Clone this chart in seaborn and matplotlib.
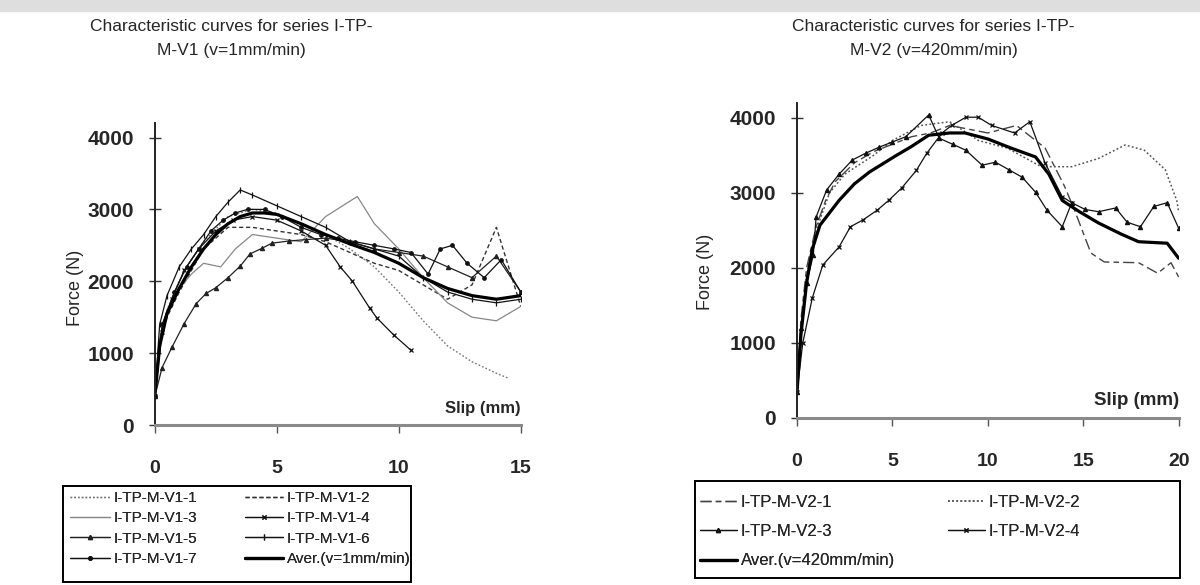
import matplotlib
matplotlib.use("Agg")
import matplotlib.pyplot as plt
import seaborn as sns
import pandas as pd
from matplotlib.patches import Rectangle

# === Series V1 (v=1mm/min), slip in mm, force in N ===
v1_1_x = [0, 0.2, 0.5, 1, 1.5, 2, 3, 4, 5, 6, 7, 8, 9, 10, 11, 12, 13, 14, 14.5]
v1_1_y = [400, 1100, 1600, 2000, 2300, 2550, 2900, 3000, 2950, 2800, 2650, 2450, 2200, 1850, 1450, 1100, 880, 720, 650]

v1_2_x = [0, 0.2, 0.5, 1, 2, 3, 4, 5, 6, 7, 8, 9, 10, 11, 12, 13, 14, 15]
v1_2_y = [400, 1100, 1500, 1850, 2450, 2750, 2750, 2700, 2650, 2550, 2400, 2250, 2150, 1950, 1750, 1950, 2750, 1650]

v1_3_x = [0, 0.2, 0.5, 1, 1.5, 2, 2.7, 3.3, 4, 5, 6, 7, 8.3, 9, 10, 11, 12, 13, 14, 15]
v1_3_y = [400, 1200, 1600, 1900, 2100, 2250, 2200, 2450, 2650, 2600, 2550, 2900, 3180, 2800, 2450, 2050, 1700, 1500, 1450, 1650]

v1_4_x = [0, 0.3, 0.7, 1.2, 1.8, 2.5, 3.2, 4, 5, 6, 7, 7.6, 8.1, 8.8, 9.1, 9.8, 10.5]
v1_4_y = [400, 1300, 1750, 2150, 2450, 2700, 2850, 2900, 2850, 2700, 2500, 2200, 2000, 1630, 1490, 1250, 1040]

v1_5_x = [0, 0.3, 0.7, 1.2, 1.7, 2.1, 2.5, 3, 3.5, 3.9, 4.4, 4.8, 5.5, 6.2, 7, 8, 9, 10, 11, 12, 13, 14, 15]
v1_5_y = [400, 800, 1080, 1410, 1690, 1830, 1910, 2050, 2210, 2380, 2460, 2530, 2560, 2580, 2600, 2550, 2450, 2400, 2350, 2200, 2050, 2350, 1850]

v1_6_x = [0, 0.2, 0.5, 1, 1.5, 2, 2.5, 3, 3.5, 4, 5, 6, 7, 8, 9, 10, 11, 12, 13, 14, 15]
v1_6_y = [400, 1400, 1800, 2200, 2450, 2650, 2900, 3100, 3270, 3200, 3050, 2900, 2750, 2550, 2450, 2350, 2050, 1850, 1750, 1700, 1750]

v1_7_x = [0, 0.3, 0.8, 1.3, 1.8, 2.3, 2.8, 3.3, 3.8, 4.5, 5.2, 6, 6.8, 7.5, 8.2, 9, 9.8, 10.5, 11.2, 11.7, 12.2, 12.8, 13.5, 14.2, 15]
v1_7_y = [400, 1400, 1850, 2200, 2450, 2700, 2850, 2950, 3000, 3000, 2900, 2750, 2650, 2600, 2550, 2500, 2450, 2400, 2100, 2450, 2500, 2250, 2050, 2300, 1850]

v1_avg_x = [0, 0.2, 0.5, 1, 1.5, 2, 2.5, 3, 3.5, 4, 4.5, 5, 6, 7, 8, 9, 10, 11, 12, 13, 14, 15]
v1_avg_y = [400, 1100, 1550, 1900, 2200, 2450, 2650, 2800, 2900, 2950, 2950, 2930, 2800, 2650, 2520, 2400, 2250, 2050, 1900, 1800, 1750, 1800]

# === Series V2 (v=420mm/min) ===
v2_1_x = [0, 0.2, 0.5, 1, 1.5, 2, 3, 4, 5, 6, 7, 8, 9, 10, 11.5, 13, 14, 14.5, 15.4, 16.1, 17.9, 18.9, 19.6, 20]
v2_1_y = [350, 1300, 2000, 2550, 2900, 3150, 3400, 3550, 3650, 3750, 3800, 3900, 3850, 3800, 3900, 3600, 3100, 2800, 2200, 2080, 2070, 1930, 2070, 1880]

v2_2_x = [0, 0.2, 0.5, 1, 1.7, 2.5, 4, 5, 6.5, 8, 9.5, 11, 12.8, 14.4, 15.8, 17.2, 18.2, 19.3, 19.9, 20]
v2_2_y = [350, 1200, 1900, 2500, 3000, 3250, 3500, 3700, 3900, 3950, 3700, 3600, 3350, 3350, 3460, 3640, 3570, 3310, 2900, 2750]

v2_3_x = [0, 0.2, 0.5, 0.85, 1.0, 1.55, 2.2, 2.9, 3.6, 4.3, 5.0, 5.7, 6.9, 7.45, 8.15, 8.85, 9.7, 10.4, 11.1, 11.8, 12.5, 13.1, 13.9, 14.4, 15.1, 15.8, 16.7, 17.3, 18, 18.7, 19.4, 20]
v2_3_y = [350, 1200, 1800, 2170, 2680, 3040, 3250, 3440, 3530, 3610, 3680, 3750, 4040, 3730, 3650, 3570, 3370, 3410, 3310, 3210, 3010, 2770, 2550, 2870, 2780, 2750, 2800, 2610, 2550, 2820, 2870, 2530]

v2_4_x = [0, 0.3, 0.8, 1.35, 2.2, 2.8, 3.45, 4.2, 4.8, 5.5, 6.25, 6.8, 7.6, 8.1, 8.85, 9.5, 10.2, 11.4, 12.2, 13, 13.9, 14.4]
v2_4_y = [350, 1000, 1600, 2040, 2280, 2550, 2640, 2770, 2900, 3070, 3300, 3530, 3800, 3900, 4010, 4010, 3900, 3800, 3950, 3400, 2950, 2870]

v2_avg_x = [0, 0.2, 0.5, 0.8, 1.2, 2.2, 3.0, 3.8, 5.2, 6.0, 6.9, 8.0, 8.8, 10, 11.2, 12.5, 13.2, 13.9, 14.8, 15.8, 17, 17.9, 19.4, 20]
v2_avg_y = [350, 1100, 1800, 2250, 2570, 2900, 3120, 3280, 3500, 3620, 3770, 3800, 3800, 3720, 3600, 3480, 3250, 2900, 2750, 2600, 2450, 2350, 2330, 2130]

v1_labels = ["I-TP-M-V1-1", "I-TP-M-V1-2", "I-TP-M-V1-3", "I-TP-M-V1-4",
             "I-TP-M-V1-5", "I-TP-M-V1-6", "I-TP-M-V1-7", "Aver.(v=1mm/min)"]
v2_labels = ["I-TP-M-V2-1", "I-TP-M-V2-2", "I-TP-M-V2-3", "I-TP-M-V2-4",
             "Aver.(v=420mm/min)"]

sns.set_theme(style="ticks")
plt.rcParams["font.family"] = ["Liberation Sans", "DejaVu Sans"]

W, H = 1200, 585
fig = plt.figure(figsize=(12, 5.85), dpi=100)
fig.add_artist(Rectangle((0, 1 - 11 / H), 1, 11 / H, transform=fig.transFigure,
                         color="#dedede", zorder=0))
ax1 = fig.add_axes([0.129, 0.2735, 0.305, 0.516])
ax2 = fig.add_axes([0.6642, 0.2855, 0.318, 0.5385])

# style per series: (color, linestyle, linewidth, marker, markersize)
v1_styles = [
    ("#777777", (0, (1.2, 1.5)), 1.0, None, 0),
    ("#333333", (0, (3, 2)), 1.0, None, 0),
    ("#888888", "-", 0.9, None, 0),
    ("#111111", "-", 0.9, "x", 3.5),
    ("#222222", "-", 0.9, "^", 3),
    ("#111111", "-", 0.9, "|", 4),
    ("#111111", "-", 0.9, "o", 2.5),
    ("#000000", "-", 2.3, None, 0),
]
v2_styles = [
    ("#444444", (0, (8, 3, 4, 3)), 1.0, None, 0),
    ("#555555", (0, (1.2, 1.5)), 1.1, None, 0),
    ("#111111", "-", 0.9, "^", 3),
    ("#111111", "-", 0.9, "x", 3.5),
    ("#000000", "-", 2.3, None, 0),
]

v1_data = [(v1_1_x, v1_1_y), (v1_2_x, v1_2_y), (v1_3_x, v1_3_y), (v1_4_x, v1_4_y),
           (v1_5_x, v1_5_y), (v1_6_x, v1_6_y), (v1_7_x, v1_7_y), (v1_avg_x, v1_avg_y)]
v2_data = [(v2_1_x, v2_1_y), (v2_2_x, v2_2_y), (v2_3_x, v2_3_y), (v2_4_x, v2_4_y),
           (v2_avg_x, v2_avg_y)]


def draw(ax, data, labels, styles):
    handles = []
    for (xs, ys), lab, (c, ls, lw, mk, ms) in zip(data, labels, styles):
        df = pd.DataFrame({"slip": xs, "force": ys})
        sns.lineplot(data=df, x="slip", y="force", ax=ax, color=c, linestyle=ls,
                     linewidth=lw, marker=mk, markersize=ms, markeredgewidth=0.9,
                     markeredgecolor=c, sort=False, estimator=None, label=lab)
        handles.append(ax.get_lines()[-1])
    if ax.get_legend() is not None:
        ax.get_legend().remove()
    return handles


h1 = draw(ax1, v1_data, v1_labels, v1_styles)
h2 = draw(ax2, v2_data, v2_labels, v2_styles)

for ax, xmax, xt, slip_fs in [(ax1, 15, [0, 5, 10, 15], 12), (ax2, 20, [0, 5, 10, 15, 20], 13.5)]:
    ax.set_xlim(0, xmax)
    ax.set_ylim(0, 4200)
    ax.set_xticks(xt)
    ax.set_yticks([0, 1000, 2000, 3000, 4000])
    ax.set_xlabel("")
    ax.set_ylabel("")
    sns.despine(ax=ax)
    ax.spines["bottom"].set_color("#8a8a8a")
    ax.spines["bottom"].set_linewidth(2.2)
    ax.spines["left"].set_color("#222222")
    ax.spines["left"].set_linewidth(1.4)
    ax.tick_params(axis="x", direction="out", length=6, width=1, color="#555555",
                   pad=19, labelsize=14)
    ax.tick_params(axis="y", direction="inout", length=8, width=1, color="#333333",
                   pad=11, labelsize=15)
    for t in ax.get_xticklabels() + ax.get_yticklabels():
        t.set_fontweight("bold")
    ax.patch.set_alpha(0)
    ax.text(1.0, 0.03, "Slip (mm)", transform=ax.transAxes, ha="right", va="bottom",
            fontsize=slip_fs, fontweight="bold")

# titles and y labels
fig.text(0.1925, 0.934, "Characteristic curves for series I-TP-\nM-V1 (v=1mm/min)",
         ha="center", va="center", fontsize=12.5, linespacing=1.75)
fig.text(0.778, 0.934, "Characteristic curves for series I-TP-\nM-V2 (v=420mm/min)",
         ha="center", va="center", fontsize=12.5, linespacing=1.75)
fig.text(0.0625, 0.508, "Force (N)", rotation=90, ha="center", va="center", fontsize=13)
fig.text(0.5875, 0.535, "Force (N)", rotation=90, ha="center", va="center", fontsize=13)


def legend_column(handles, labels, x_px, top_px, fs, hl, ls):
    leg = fig.legend(handles, labels, loc="upper left",
                     bbox_to_anchor=(x_px / W, 1 - top_px / H), frameon=False,
                     fontsize=fs, handlelength=hl, handletextpad=0.25,
                     labelspacing=ls, borderpad=0, borderaxespad=0)
    fig.add_artist(leg)
    return leg


# left legend: frame plus two columns
fig.add_artist(Rectangle((63 / W, 1 - 582 / H), 348 / W, 96 / H, transform=fig.transFigure,
                         fill=False, edgecolor="black", linewidth=1.4))
legend_column([h1[i] for i in [0, 2, 4, 6]], [v1_labels[i] for i in [0, 2, 4, 6]],
              70, 491, 11, 2.6, 0.42)
legend_column([h1[i] for i in [1, 3, 5, 7]], [v1_labels[i] for i in [1, 3, 5, 7]],
              245, 491, 11, 2.5, 0.42)

# right legend
fig.add_artist(Rectangle((695 / W, 1 - 578 / H), 485 / W, 97 / H, transform=fig.transFigure,
                         fill=False, edgecolor="black", linewidth=1.4))
legend_column([h2[i] for i in [0, 2, 4]], [v2_labels[i] for i in [0, 2, 4]],
              700, 495, 12, 2.2, 0.85)
legend_column([h2[i] for i in [1, 3]], [v2_labels[i] for i in [1, 3]],
              948, 495, 12, 2.2, 0.85)

fig.savefig("out.png", dpi=100)
